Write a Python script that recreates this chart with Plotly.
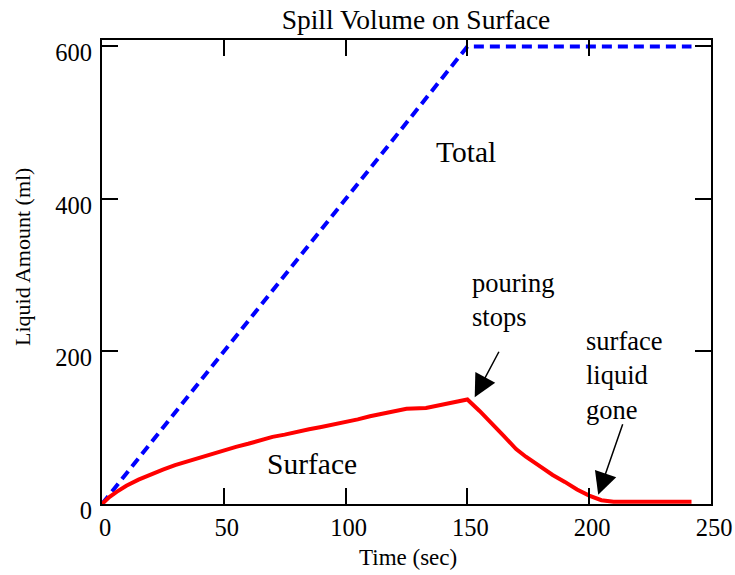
import plotly.graph_objects as go

# Time samples (sec) and liquid amounts (ml)
total_t = [0, 150, 242]
total_ml = [0, 600, 600]

surface_t = [0, 3, 6, 10, 15, 20, 25, 30, 35, 40, 45, 50, 55, 60, 65, 70, 75, 80,
             85, 90, 95, 100, 105, 110, 115, 120, 125, 133, 140, 145, 150,
             155, 160, 165, 170, 174, 180, 185, 190, 195, 200, 205, 210, 242]
surface_ml = [0, 9, 16, 24, 32, 39, 45, 51, 56, 61, 66, 71, 75, 79, 84, 88, 91, 95,
              98, 101, 104, 108, 111, 115, 118, 121, 125, 126, 131, 134, 137,
              122, 106, 89, 72, 62, 49, 38, 29, 19, 11, 5, 3, 3]

x_ticks = [0, 50, 100, 150, 200, 250]
y_ticks = [0, 200, 400, 600]

SERIF = "Liberation Serif"

# plot area in pixels
L, R, T, B = 102, 24, 40, 71
W, H = 735, 575
pw, ph = W - L - R, H - T - B

fig = go.Figure()
fig.add_trace(go.Scatter(x=total_t, y=total_ml, mode="lines",
                         line=dict(color="#0000ff", width=4, dash="10px,6px"),
                         showlegend=False))
fig.add_trace(go.Scatter(x=surface_t, y=surface_ml, mode="lines",
                         line=dict(color="#ff0000", width=4),
                         showlegend=False))

axis_common = dict(showline=True, linecolor="black", linewidth=2, mirror="ticks",
                   ticks="inside", ticklen=16, tickwidth=1.5, tickcolor="black",
                   showgrid=False, zeroline=False, automargin=False,
                   tickfont=dict(family=SERIF, size=24.5, color="black"))

fig.update_xaxes(range=[0, 250], tickvals=x_ticks, ticklabelstandoff=1,
                 ticklabelshift=3, **axis_common)
fig.update_yaxes(range=[0, 608.5], tickvals=y_ticks, ticklabelstandoff=3,
                 ticklabelshift=6, **axis_common)

def txt(size):
    return dict(family=SERIF, size=size, color="black")

annotations = [
    dict(text="Total", x=149.5, y=462, xref="x", yref="y", showarrow=False, font=txt(29.5)),
    dict(text="Surface", x=86, y=52, xref="x", yref="y", showarrow=False, font=txt(29.5)),
    dict(text="pouring<br>stops", x=151, y=268, xref="x", yref="y", showarrow=False,
         xanchor="left", yanchor="middle", align="left", font=txt(26.5)),
    dict(text="surface<br>liquid<br>gone", x=198, y=168, xref="x", yref="y", showarrow=False,
         xanchor="left", yanchor="middle", align="left", font=txt(26.5)),
    # arrows
    dict(text="", x=153, y=140, xref="x", yref="y", showarrow=True,
         ax=25, ay=-47, arrowhead=2, arrowsize=3, arrowwidth=1.5, arrowcolor="black"),
    dict(text="", x=203.7, y=12, xref="x", yref="y", showarrow=True,
         ax=25, ay=-72, arrowhead=2, arrowsize=3, arrowwidth=1.5, arrowcolor="black"),
    # axis titles
    dict(text="Time (sec)", x=(408 - L) / pw, y=(H - B - 557) / ph,
         xref="paper", yref="paper", xanchor="center", yanchor="middle",
         showarrow=False, font=txt(23)),
    dict(text="Liquid Amount (ml)", x=(22 - L) / pw, y=(H - B - 257) / ph,
         xref="paper", yref="paper", xanchor="center", yanchor="middle",
         showarrow=False, textangle=-90, font=txt(22)),
]

fig.update_layout(
    width=W, height=H,
    margin=dict(l=L, r=R, t=T, b=B, autoexpand=False),
    paper_bgcolor="white", plot_bgcolor="white",
    title=dict(text="Spill Volume on Surface", x=416 / W, xanchor="center",
               y=1 - 19 / H, yanchor="middle", yref="container", font=txt(27.5)),
    annotations=annotations,
)

fig.write_html("out.html")
